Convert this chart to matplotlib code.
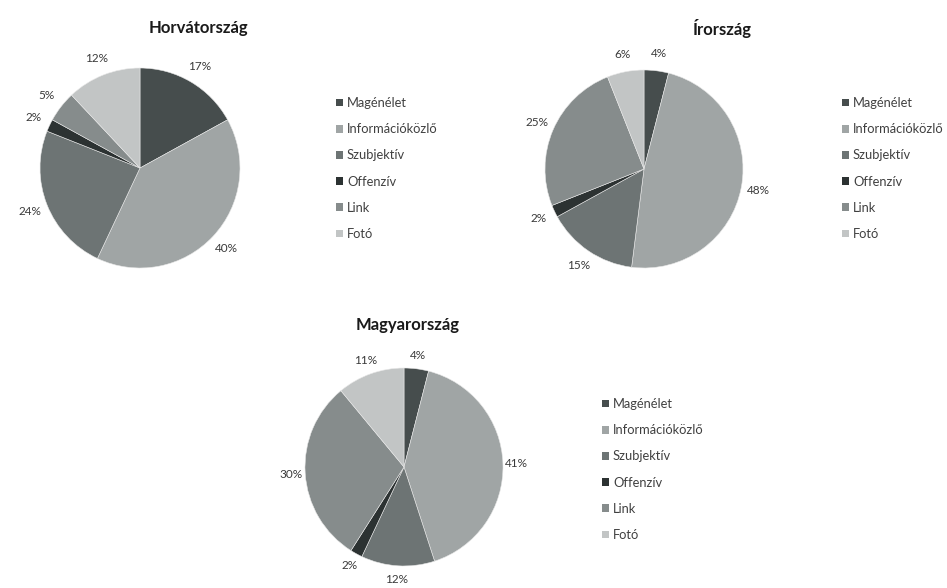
import matplotlib
matplotlib.use("Agg")
import matplotlib.pyplot as plt
from matplotlib.patches import Patch

categories = ["Magénélet", "Információközlő", "Szubjektív", "Offenzív", "Link", "Fotó"]
horvatorszag = [17, 40, 24, 2, 5, 12]
irorszag = [4, 48, 15, 2, 25, 6]
magyarorszag = [4, 41, 12, 2, 30, 11]
titles = ["Horvátország", "Írország", "Magyarország"]

colors = ["#464d4d", "#a0a5a5", "#6d7474", "#2c3232", "#868c8c", "#c2c5c5"]

W, H = 947, 588
fig = plt.figure(figsize=(W / 100, H / 100), dpi=100)
plt.rcParams["font.family"] = ["Lato", "DejaVu Sans"]


def px_axes(cx, cy, r):
    return fig.add_axes([(cx - r) / W, (H - cy - r) / H, 2 * r / W, 2 * r / H])


def draw_pie(values, title, cx, cy, r, title_xy, legend_xy, pct_dist=1.18):
    ax = px_axes(cx, cy, r)
    ax.pie(values, colors=colors, startangle=90, counterclock=False,
           autopct=lambda p: f"{p:.0f}%", pctdistance=pct_dist,
           textprops=dict(fontsize=8.5, color="#3a3a3a"),
           wedgeprops=dict(linewidth=0.4, edgecolor="#e8e8e8"))
    ax.set_xlim(-1, 1)
    ax.set_ylim(-1, 1)
    ax.set_aspect("equal")
    ax.axis("off")
    fig.text(title_xy[0] / W, 1 - title_xy[1] / H, title, ha="center", va="center",
             fontsize=12, fontweight="bold", color="#1a1a1a")
    handles = [Patch(facecolor=c, edgecolor="none") for c in colors]
    fig.legend(handles, categories, loc="upper left",
               bbox_to_anchor=(legend_xy[0] / W, 1 - legend_xy[1] / H),
               frameon=False, fontsize=9.3, handlelength=0.55, handleheight=0.55,
               handletextpad=0.3, labelspacing=1.1, borderpad=0, borderaxespad=0,
               labelcolor="#404040")


draw_pie(horvatorszag, titles[0], 140, 168, 100, (198, 28), (336, 97))
draw_pie(irorszag, titles[1], 644, 169, 99, (722, 28), (842, 97))
draw_pie(magyarorszag, titles[2], 404, 467, 99, (408, 325), (602, 398), pct_dist=1.14)

fig.savefig("out.png", dpi=100, facecolor="white")
